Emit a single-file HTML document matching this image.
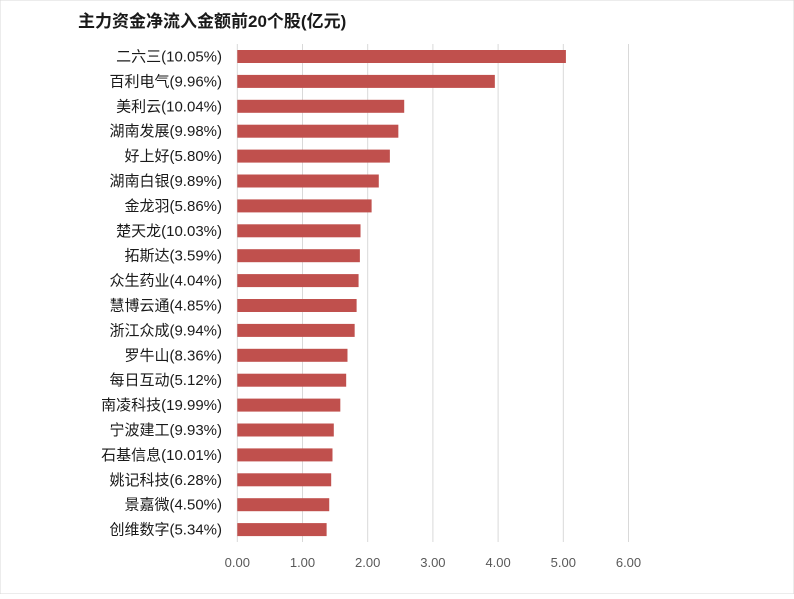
<!DOCTYPE html>
<html><head><meta charset="utf-8"><style>
body{margin:0;background:#fff;}
svg text{font-family:"Liberation Sans","Noto Sans CJK SC",sans-serif;}
</style></head><body>
<svg id="chart" width="794" height="594" xmlns="http://www.w3.org/2000/svg">
<rect x="0" y="0" width="794" height="594" fill="#fff" stroke="#d9d9d9"/>
<text x="78" y="27" font-size="17" font-weight="bold" fill="#1a1a1a">主力资金净流入金额前20个股(亿元)</text>
<g id="grid"></g><g id="bars"></g><g id="labels"></g><g id="ticks"></g>
</svg>
<script>
const categories=["二六三(10.05%)","百利电气(9.96%)","美利云(10.04%)","湖南发展(9.98%)","好上好(5.80%)","湖南白银(9.89%)","金龙羽(5.86%)","楚天龙(10.03%)","拓斯达(3.59%)","众生药业(4.04%)","慧博云通(4.85%)","浙江众成(9.94%)","罗牛山(8.36%)","每日互动(5.12%)","南凌科技(19.99%)","宁波建工(9.93%)","石基信息(10.01%)","姚记科技(6.28%)","景嘉微(4.50%)","创维数字(5.34%)"];
const values=[5.04,3.95,2.56,2.47,2.34,2.17,2.06,1.89,1.88,1.86,1.83,1.80,1.69,1.67,1.58,1.48,1.46,1.44,1.41,1.37];
const tickValues=[0,1,2,3,4,5,6];
const tickLabels=["0.00","1.00","2.00","3.00","4.00","5.00","6.00"];
const NS="http://www.w3.org/2000/svg";
const x0=237.3, pxPerUnit=65.2, yTop=44, rowH=24.9, barH=13, firstCenter=56.5, gridBottom=542;
const xScale=v=>x0+v*pxPerUnit;
const yScale=i=>firstCenter+i*rowH;
function mk(tag,attrs,parent){const e=document.createElementNS(NS,tag);for(const k in attrs)e.setAttribute(k,attrs[k]);document.getElementById(parent).appendChild(e);return e;}
tickValues.forEach((t,i)=>{
  const l=mk('line',{x1:xScale(t),x2:xScale(t),y1:yTop,y2:gridBottom,stroke:'#d9d9d9','stroke-width':1},'grid');
  
  
  const tx=mk('text',{x:xScale(t),y:567,'text-anchor':'middle','font-size':13,fill:'#595959'},'ticks');
  tx.textContent=tickLabels[i];
  
  
});
categories.forEach((c,i)=>{
  const cy=yScale(i);
  const r=mk('rect',{x:xScale(0),y:cy-barH/2,width:xScale(values[i])-xScale(0),height:barH,fill:'#c0504d'},'bars');
  
  
  const t=mk('text',{x:222,y:cy+5,'text-anchor':'end','font-size':15,fill:'#1a1a1a'},'labels');
  t.textContent=c;
  
  
});
</script>
</body></html>
